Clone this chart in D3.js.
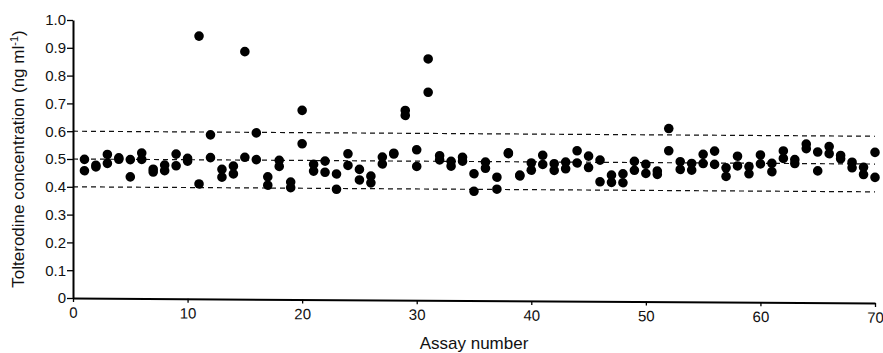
<!DOCTYPE html>
<html>
<head>
<meta charset="utf-8">
<script src="https://cdn.jsdelivr.net/npm/d3@7"></script>
<style>
  html, body { margin: 0; padding: 0; background: #fff; }
  svg { display: block; }
  text { font-family: "Liberation Sans", Arial, Helvetica, sans-serif; fill: #111; }
</style>
</head>
<body>
<svg id="chart" width="883" height="353"></svg>
<script>
// ---- data ----
const assayNumbers = d3.range(1, 71);
const replicateA = [0.499,0.478,0.517,0.505,0.499,0.523,0.465,0.480,0.520,0.505,
                    0.945,0.590,0.466,0.478,0.890,0.598,0.440,0.500,0.422,0.680,
                    0.486,0.498,0.452,0.525,0.469,0.445,0.514,0.528,0.682,0.541,
                    0.868,0.520,0.500,0.515,0.456,0.498,0.444,0.532,0.452,0.496,
                    0.524,0.494,0.500,0.541,0.522,0.508,0.454,0.459,0.504,0.494,
                    0.470,0.623,0.504,0.498,0.531,0.543,0.483,0.525,0.488,0.530,
                    0.500,0.545,0.514,0.570,0.542,0.562,0.530,0.506,0.488,0.542];
const replicateB = [0.458,0.472,0.485,0.500,0.437,0.500,0.455,0.460,0.478,0.495,
                    0.413,0.508,0.438,0.450,0.510,0.502,0.410,0.478,0.402,0.560,
                    0.462,0.458,0.397,0.483,0.431,0.421,0.489,0.525,0.664,0.481,
                    0.748,0.505,0.483,0.501,0.393,0.476,0.401,0.529,0.449,0.470,
                    0.491,0.470,0.476,0.497,0.481,0.430,0.428,0.427,0.472,0.461,
                    0.458,0.543,0.476,0.474,0.498,0.495,0.452,0.490,0.462,0.498,
                    0.470,0.518,0.500,0.554,0.474,0.536,0.518,0.486,0.462,0.452];
const referenceLines = [0.6, 0.5, 0.4];
const xTicks = [0, 10, 20, 30, 40, 50, 60, 70];
const yTicks = [0, 0.1, 0.2, 0.3, 0.4, 0.5, 0.6, 0.7, 0.8, 0.9, 1.0];

// ---- layout ----
const svg = d3.select("#chart");
const x = d3.scaleLinear().domain([0, 70]).range([73, 875]);
const y = d3.scaleLinear().domain([0, 1]).range([298, 20]);

// slight scan skew of the printed figure
const plot = svg.append("g")
  .attr("transform", "translate(73,0) skewY(0.36) translate(-73,0)");

// reference dashed lines
plot.append("g").selectAll("line").data(referenceLines).join("line")
  .attr("x1", x(0)).attr("x2", x(70))
  .attr("y1", d => y(d)).attr("y2", d => y(d))
  .attr("stroke", "#111").attr("stroke-width", 1.2)
  .attr("stroke-dasharray", "5,4");

// points
const pts = [];
assayNumbers.forEach((n, i) => {
  pts.push({n, v: replicateA[i]});
  pts.push({n, v: replicateB[i]});
});
plot.append("g").selectAll("circle").data(pts).join("circle")
  .attr("cx", d => x(d.n)).attr("cy", d => y(d.v))
  .attr("r", 4.8).attr("fill", "#000");

// x axis
const xAxis = plot.append("g")
  .attr("transform", `translate(0,${y(0)})`)
  .call(d3.axisBottom(x).tickValues(xTicks).tickFormat(d3.format("d")).tickSize(4).tickSizeOuter(0));
xAxis.select(".domain").attr("stroke", "#000").attr("stroke-width", 2);
xAxis.selectAll(".tick line").attr("stroke", "#000").attr("stroke-width", 1.3);
xAxis.selectAll(".tick text").attr("font-size", 15).attr("dy", "0.85em")
  .style("font-family", '"Liberation Sans", Arial, sans-serif').attr("fill", "#111");

// y axis
const yAxis = svg.append("g")
  .attr("transform", `translate(${x(0)},0)`)
  .call(d3.axisLeft(y).tickValues(yTicks).tickFormat(d => d === 0 ? "0" : d3.format(".1f")(d)).tickSize(6).tickSizeOuter(0));
yAxis.select(".domain").attr("stroke", "#000").attr("stroke-width", 2);
yAxis.selectAll(".tick line").attr("stroke", "#000").attr("stroke-width", 1.3);
yAxis.selectAll(".tick text").attr("font-size", 15).attr("x", -7)
  .style("font-family", '"Liberation Sans", Arial, sans-serif').attr("fill", "#111");

// axis titles
svg.append("text")
  .attr("x", 474).attr("y", 349)
  .attr("text-anchor", "middle").attr("font-size", 17)
  .text("Assay number");

const yt = svg.append("text")
  .attr("transform", "translate(24,159) rotate(-90)")
  .attr("text-anchor", "middle").attr("font-size", 17);
yt.append("tspan").text("Tolterodine concentration (ng ml");
yt.append("tspan").attr("font-size", 11).attr("dy", -6).text("-1");
yt.append("tspan").attr("dy", 6).text(")");
</script>
</body>
</html>
